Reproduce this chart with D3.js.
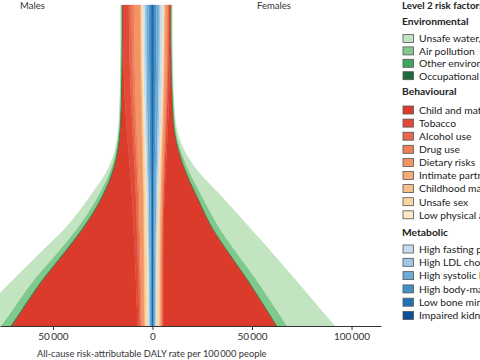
<!DOCTYPE html>
<html><head><meta charset="utf-8">
<script src="https://cdn.jsdelivr.net/npm/d3@7"></script>
<style>
body{margin:0;background:#fff}
svg{display:block;font-family:Lato,"Open Sans",sans-serif}
</style>
</head><body>
<svg id="chart" width="480" height="360"></svg>
<script>
// ---- Data ----
const levels = [0, 0.05, 0.1, 0.15, 0.2, 0.25, 0.3, 0.4, 0.5, 0.6, 0.7, 0.8, 0.9, 1.0];
const xTicks = [-50000, 0, 50000, 100000];

const groups = ["Environmental", "Behavioural", "Metabolic"];
const riskLabels = [
  "Unsafe water, sanitation, and handwashing", "Air pollution", "Other environmental risks", "Occupational risks",
  "Child and maternal malnutrition", "Tobacco", "Alcohol use", "Drug use", "Dietary risks",
  "Intimate partner violence", "Childhood maltreatment", "Unsafe sex", "Low physical activity",
  "High fasting plasma glucose", "High LDL cholesterol", "High systolic blood pressure",
  "High body-mass index", "Low bone mineral density", "Impaired kidney function"
];
const riskGroup = [0,0,0,0, 1,1,1,1,1,1,1,1,1, 2,2,2,2,2,2];
const riskColors = [
  "#c3e4c0", "#7fc98d", "#3ea55c", "#1a6b3a",
  "#da3b2b", "#e04a36", "#e8674d", "#ee7e56", "#f29464", "#f5aa78", "#f8bf88", "#fbd5a2", "#fde8c8",
  "#c8dcef", "#9ec8e2", "#6aacd6", "#4291c6", "#2171b5", "#0b4f94"
];

// Males (DALY rate per 100 000), bottom level -> top level
const mWater   = [16950, 14600, 12250, 10250, 9150, 7850, 6100, 4050, 1150, 250, 50, 75, 100, 100];
const mAir     = [4500, 4250, 4000, 3750, 3250, 2750, 2400, 1750, 750, 300, 200, 175, 150, 150];
const mOtherEnv= [400, 400, 400, 400, 350, 350, 300, 250, 200, 150, 150, 150, 150, 150];
const mOccup   = [400, 400, 400, 400, 400, 400, 400, 400, 400, 400, 350, 350, 350, 350];
const mChild   = [63300, 57600, 51900, 45800, 39000, 32300, 25800, 15100, 7600, 3500, 1800, 850, 350, 150];
const mTobacco = [1000, 1070, 1160, 1260, 1380, 1500, 1620, 1950, 2340, 2870, 3070, 3110, 3100, 3120];
const mAlcohol = [700, 750, 800, 850, 900, 950, 1000, 1050, 1150, 1250, 1320, 1370, 1390, 1400];
const mDrug    = [300, 330, 360, 390, 420, 450, 480, 550, 650, 800, 950, 1070, 1150, 1200];
const mDiet    = [1300, 1380, 1460, 1540, 1620, 1700, 1780, 1950, 2200, 2500, 2750, 2900, 2970, 3000];
const mIPV     = [50, 50, 50, 50, 50, 50, 50, 45, 40, 35, 30, 30, 30, 30];
const mMaltreat= [250, 260, 270, 280, 290, 300, 310, 320, 340, 360, 380, 390, 400, 400];
const mSex     = [1500, 1500, 1480, 1450, 1400, 1350, 1300, 1150, 1000, 850, 750, 680, 630, 600];
const mLPA     = [150, 160, 170, 180, 190, 200, 210, 240, 280, 340, 400, 450, 480, 500];
const mFPG     = [450, 450, 450, 455, 475, 490, 520, 570, 645, 720, 780, 835, 850, 850];
const mLDL     = [340, 350, 355, 360, 375, 385, 410, 450, 520, 590, 640, 690, 710, 720];
const mSBP     = [770, 780, 790, 800, 820, 850, 890, 950, 1040, 1130, 1200, 1260, 1300, 1320];
const mBMI     = [270, 290, 310, 330, 360, 390, 430, 500, 620, 740, 860, 960, 1050, 1100];
const mBone    = [70, 70, 75, 75, 80, 85, 90, 100, 115, 130, 150, 165, 180, 190];
const mKidney  = [350, 360, 370, 380, 390, 400, 410, 430, 460, 490, 520, 540, 560, 570];

// Females
const fWater   = [24000, 22400, 20850, 19450, 18400, 17250, 15550, 10000, 3450, 750, 200, 250, 150, 150];
const fAir     = [4750, 4500, 4250, 4000, 3750, 3500, 3250, 2250, 1250, 400, 200, 150, 150, 150];
const fOtherEnv= [300, 300, 300, 300, 300, 250, 250, 250, 200, 150, 150, 150, 150, 150];
const fOccup   = [200, 200, 200, 200, 200, 200, 200, 200, 200, 200, 200, 200, 200, 200];
const fChild   = [57000, 51950, 46850, 41600, 35950, 30400, 24950, 16550, 8750, 3650, 1750, 850, 350, 250];
const fTobacco = [250, 235, 220, 210, 200, 200, 235, 380, 620, 780, 830, 810, 820, 800];
const fAlcohol = [130, 135, 140, 145, 150, 150, 150, 170, 200, 240, 270, 285, 295, 300];
const fDrug    = [100, 110, 115, 120, 125, 130, 135, 160, 220, 300, 370, 420, 440, 450];
const fDiet    = [900, 890, 880, 870, 850, 830, 820, 830, 870, 920, 960, 985, 995, 1000];
const fIPV     = [250, 245, 240, 235, 225, 215, 210, 200, 190, 175, 165, 158, 152, 150];
const fMaltreat= [200, 205, 210, 215, 220, 225, 230, 250, 270, 300, 320, 335, 345, 350];
const fSex     = [1300, 1260, 1220, 1170, 1100, 1020, 960, 820, 650, 500, 400, 340, 310, 300];
const fLPA     = [120, 125, 130, 135, 140, 150, 160, 190, 230, 280, 330, 370, 390, 400];
const fFPG     = [440, 455, 465, 470, 495, 515, 550, 650, 795, 950, 1065, 1125, 1150, 1160];
const fLDL     = [320, 325, 330, 340, 350, 360, 380, 425, 490, 580, 660, 720, 760, 780];
const fSBP     = [700, 715, 730, 745, 770, 800, 840, 920, 1030, 1150, 1250, 1320, 1360, 1380];
const fBMI     = [300, 310, 320, 335, 360, 385, 420, 500, 620, 780, 920, 1030, 1090, 1120];
const fBone    = [60, 60, 65, 65, 70, 75, 80, 95, 115, 140, 165, 185, 200, 210];
const fKidney  = [330, 335, 340, 345, 355, 365, 380, 410, 450, 500, 540, 570, 590, 600];

const maleSeries = [mWater, mAir, mOtherEnv, mOccup, mChild, mTobacco, mAlcohol, mDrug, mDiet, mIPV, mMaltreat, mSex, mLPA, mFPG, mLDL, mSBP, mBMI, mBone, mKidney];
const femaleSeries = [fWater, fAir, fOtherEnv, fOccup, fChild, fTobacco, fAlcohol, fDrug, fDiet, fIPV, fMaltreat, fSex, fLPA, fFPG, fLDL, fSBP, fBMI, fBone, fKidney];

// ---- Chart ----
const svg = d3.select("#chart");
const x = d3.scaleLinear().domain([-76600, 114800]).range([0, 381]);
const y = d3.scaleLinear().domain([0, 1]).range([326, 5]);

// stack order: centre outward = reverse of legend order
const keys = riskLabels.map((d, i) => i).reverse();
function rows(series) {
  return levels.map((lv, i) => {
    const r = {level: lv};
    series.forEach((s, k) => r[k] = s[i]);
    return r;
  });
}
const stack = d3.stack().keys(keys);
const mStack = stack(rows(maleSeries));
const fStack = stack(rows(femaleSeries));

const areaM = d3.area().curve(d3.curveMonotoneY)
  .y(d => y(d.data.level)).x0(d => x(-d[0])).x1(d => x(-d[1]));
const areaF = d3.area().curve(d3.curveMonotoneY)
  .y(d => y(d.data.level)).x0(d => x(d[0])).x1(d => x(d[1]));

const gA = svg.append("g");
gA.selectAll("path.m").data(mStack).join("path").attr("class", "m")
  .attr("fill", d => riskColors[d.key]).attr("stroke", d => riskColors[d.key]).attr("stroke-width", 0.3)
  .attr("d", areaM);
gA.selectAll("path.f").data(fStack).join("path").attr("class", "f")
  .attr("fill", d => riskColors[d.key]).attr("stroke", d => riskColors[d.key]).attr("stroke-width", 0.3)
  .attr("d", areaF);

// axis
const fmt = v => d3.format(",")(Math.abs(v)).replace(/,/g, "\u2009");
const ax = svg.append("g").attr("transform", "translate(0,326)")
  .call(d3.axisBottom(x).tickValues(xTicks).tickFormat(fmt).tickSize(4).tickSizeOuter(0));
ax.select(".domain").attr("stroke", "#333");
ax.selectAll(".tick line").attr("stroke", "#333");
ax.selectAll(".tick text").attr("fill", "#333").style("font-size", "10px").style("font-family", "Lato, sans-serif");

svg.append("text").attr("x", 37).attr("y", 357).attr("fill", "#333")
  .style("font-size", "9.3px").text("All-cause risk-attributable DALY rate per 100\u2009000 people");

svg.append("text").attr("x", 20).attr("y", 9).attr("fill", "#333").style("font-size", "9.5px").text("Males");
svg.append("text").attr("x", 257).attr("y", 9).attr("fill", "#333").style("font-size", "9.5px").text("Females");

// legend
const lg = svg.append("g");
lg.append("text").attr("x", 402).attr("y", 8.5).attr("fill", "#222")
  .style("font-size", "9.8px").style("font-weight", "bold").text("Level 2 risk factors");
const groupHeadY = [24.5, 95, 236];
const groupRow0 = [38.5, 110, 249];
const groupStep = [12.4, 13.1, 13.3];
groups.forEach((g, gi) => {
  lg.append("text").attr("x", 402).attr("y", groupHeadY[gi]).attr("fill", "#222")
    .style("font-size", "10.3px").style("font-weight", "bold").text(g);
});
riskLabels.forEach((lab, i) => {
  const gi = riskGroup[i];
  const idx = riskLabels.filter((_, j) => j < i && riskGroup[j] === gi).length;
  const cy = groupRow0[gi] + idx * groupStep[gi];
  lg.append("rect").attr("x", 403).attr("y", cy - 4).attr("width", 10.5).attr("height", 8)
    .attr("fill", riskColors[i]).attr("stroke", "#555").attr("stroke-width", 0.8);
  lg.append("text").attr("x", 419).attr("y", cy + 3.8).attr("fill", "#222")
    .style("font-size", "10.3px").text(lab);
});
</script>
</body></html>
